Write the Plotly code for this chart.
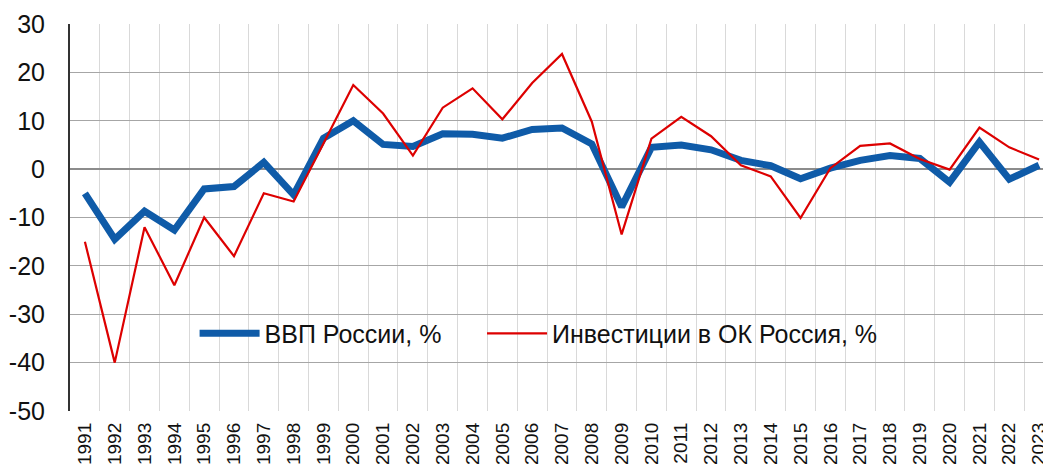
import plotly.graph_objects as go

years = [str(y) for y in range(1991, 2024)]

gdp = [-5.0, -14.5, -8.7, -12.6, -4.1, -3.6, 1.4, -5.3, 6.4, 10.0,
       5.1, 4.7, 7.3, 7.2, 6.4, 8.2, 8.5, 5.2, -7.8, 4.5,
       5.0, 4.0, 1.8, 0.7, -2.0, 0.2, 1.8, 2.8, 2.2, -2.7,
       5.6, -2.1, 0.8]

invest = [-15.0, -40.0, -12.0, -24.0, -10.0, -18.0, -5.0, -6.7, 5.3, 17.4,
          11.5, 2.8, 12.7, 16.7, 10.3, 17.8, 23.8, 9.8, -13.5, 6.3,
          10.8, 6.8, 0.8, -1.5, -10.1, 0.2, 4.8, 5.3, 2.1, -0.1,
          8.6, 4.5, 2.0]

y_ticks = [30, 20, 10, 0, -10, -20, -30, -40, -50]
y_labels = ["30", "20", "10", "0", "-10", "-20", "-30", "-40", "-50"]

fig = go.Figure()

fig.add_trace(go.Scatter(
    x=years, y=gdp,
    mode="lines",
    name="ВВП России, %",
    line=dict(color="#0f5ba8", width=7),
    legend="legend",
    showlegend=True,
))

fig.add_trace(go.Scatter(
    x=years, y=invest,
    mode="lines",
    name="Инвестиции в ОК Россия, %",
    line=dict(color="#dd0000", width=2.2),
    legend="legend2",
    showlegend=True,
))

# the page body adds 8px, so the figure is 8px smaller than the window
legend_style = dict(
    orientation="h",
    xanchor="left", yanchor="middle",
    bgcolor="rgba(0,0,0,0)",
    font=dict(size=25),
    itemwidth=60,
)

fig.update_layout(
    width=1043, height=462,
    margin=dict(l=62, r=0, t=16, b=59),
    plot_bgcolor="white",
    paper_bgcolor="white",
    showlegend=True,
    font=dict(family="Liberation Sans, Arial, sans-serif", color="#111"),
    legend=dict(x=0.127, y=0.20, **legend_style),
    legend2=dict(x=0.42, y=0.20, **legend_style),
)

fig.update_xaxes(
    type="category",
    range=[-0.5, 32.4],
    tickson="boundaries",
    showgrid=True,
    gridcolor="#d9d9d9",
    gridwidth=1,
    tickangle=-90,
    tickfont=dict(size=19),
    ticks="",
    ticklabelstandoff=7,
    automargin=False,
    showline=False,
)

fig.update_yaxes(
    range=[-50, 30],
    tickvals=y_ticks,
    ticktext=y_labels,
    showgrid=True,
    gridcolor="#a6a6a6",
    gridwidth=1,
    zeroline=True,
    zerolinecolor="#8c8c8c",
    zerolinewidth=1.5,
    showline=True,
    linecolor="#333",
    linewidth=2,
    tickfont=dict(size=25),
    ticks="",
    ticklabelstandoff=18,
    automargin=False,
)

fig.write_html("out.html")
